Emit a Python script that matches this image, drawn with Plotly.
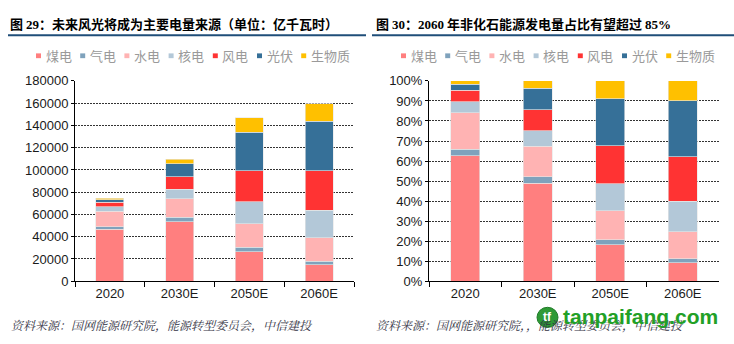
import numpy as np
import plotly.graph_objects as go

# Generation by source, 亿千瓦时
years = ["2020", "2030E", "2050E", "2060E"]
sources = ["煤电", "气电", "水电", "核电", "风电", "光伏", "生物质"]
colors = ["#FF7F7F", "#7FA2BC", "#FFB3B3", "#B3C8D8", "#FF3333", "#367098", "#FFC000"]

coal = [46700, 53600, 26650, 14600]
gas = [2300, 3700, 3720, 3450]
hydro = [13750, 16600, 21210, 21210]
nuclear = [4010, 8600, 19770, 24640]
wind = [4300, 11500, 27790, 35240]
solar = [2290, 11700, 34660, 44660]
biomass = [1150, 4000, 12900, 15800]

y_ticks_abs = [0, 20000, 40000, 60000, 80000, 100000, 120000, 140000, 160000, 180000]
y_ticks_pct = list(range(0, 101, 10))

series = [coal, gas, hydro, nuclear, wind, solar, biomass]
values = np.array(series, dtype=float)
shares = values / values.sum(axis=0) * 100.0

W, H = 734, 344


def px(x):
    return x / W


def py(y):
    return 1 - y / H


fig = go.Figure()

for name, col, v, s in zip(sources, colors, values, shares):
    fig.add_trace(go.Bar(x=years, y=v, name=name, marker_color=col,
                         marker_line=dict(color="rgba(230,230,230,0.9)", width=0.7),
                         xaxis="x", yaxis="y", showlegend=False))
    fig.add_trace(go.Bar(x=years, y=s, name=name, marker_color=col,
                         marker_line=dict(color="rgba(230,230,230,0.9)", width=0.7),
                         xaxis="x2", yaxis="y2", showlegend=False))

tick_font = dict(family="Liberation Sans, Arial, sans-serif", size=13, color="#1a1a1a")
grid = dict(showgrid=True, gridcolor="#333333", gridwidth=1, griddash="2px,1px")

xcommon = dict(type="category", categoryorder="array", categoryarray=years,
               showline=True, linecolor="black", linewidth=1,
               ticks="outside", ticklen=5, tickcolor="black", tickson="boundaries",
               tickfont=tick_font, showgrid=False, zeroline=False, fixedrange=True)
ycommon = dict(showline=True, linecolor="black", linewidth=1,
               ticks="outside", ticklen=3, tickcolor="black",
               tickfont=tick_font, zeroline=False, fixedrange=True, **grid)

y0, y1 = py(286.7), py(77.3)

fig.update_layout(
    width=W, height=H,
    margin=dict(l=0, r=0, t=0, b=0),
    paper_bgcolor="white", plot_bgcolor="white",
    barmode="stack", bargap=0.6,
    xaxis=dict(domain=[px(75), px(354)], anchor="y", **xcommon),
    yaxis=dict(domain=[y0, y1], anchor="x", range=[0, 180000],
               tickvals=y_ticks_abs, ticktext=[str(t) for t in y_ticks_abs], **ycommon),
    xaxis2=dict(domain=[px(429), px(719)], anchor="y2", **xcommon),
    yaxis2=dict(domain=[y0, y1], anchor="x2", range=[0, 100],
                tickvals=y_ticks_pct, ticktext=[f"{t}%" for t in y_ticks_pct], **ycommon),
)

annotations = []
shapes = []

title_font = dict(family="Noto Sans CJK SC, sans-serif", size=13, color="black")
serif = "font-family:Liberation Serif, Times New Roman, serif"

annotations.append(dict(
    xref="paper", yref="paper", x=px(8), y=py(17), xanchor="left", yanchor="middle",
    text=f'<b>图 <span style="{serif}">29</span>：未来风光将成为主要电量来源（单位：亿千瓦时）</b>',
    showarrow=False, font=title_font))
annotations.append(dict(
    xref="paper", yref="paper", x=px(374), y=py(17), xanchor="left", yanchor="middle",
    text=(f'<b>图 <span style="{serif}">30</span>：<span style="{serif}">2060</span> '
          f'年非化石能源发电量占比有望超过 <span style="{serif}">85%</span></b>'),
    showarrow=False, font=title_font))

# rule under each title
for xa, xb in [(8, 366), (372, 734)]:
    shapes.append(dict(type="line", xref="paper", yref="paper",
                       x0=px(xa), x1=px(xb), y0=py(29.5), y1=py(29.5),
                       line=dict(color="#1F4E79", width=2)))

# legends
legend_font = dict(family="Noto Sans CJK SC, sans-serif", size=13, color="#9a9a9a")
for start in (36, 401):
    for i, (name, col) in enumerate(zip(sources, colors)):
        sx = start + i * 44.2
        shapes.append(dict(type="rect", xref="paper", yref="paper",
                           x0=px(sx), x1=px(sx + 5), y0=py(53.5), y1=py(48.5),
                           fillcolor=col, line=dict(width=0)))
        annotations.append(dict(xref="paper", yref="paper", x=px(sx + 7.5), y=py(51),
                                xanchor="left", yanchor="middle", text=name,
                                showarrow=False, font=legend_font))

# source notes
note_font = dict(family="Noto Serif CJK SC, Noto Sans CJK SC, serif", size=12, color="#333344")
annotations.append(dict(xref="paper", yref="paper", x=px(9), y=py(332),
                        xanchor="left", yanchor="middle",
                        text="<i>资料来源：国网能源研究院，能源转型委员会，中信建投</i>",
                        showarrow=False, font=note_font))
annotations.append(dict(xref="paper", yref="paper", x=px(374), y=py(332),
                        xanchor="left", yanchor="middle",
                        text="<i>资料来源：国网能源研究院，，能源转型委员会，中信建投</i>",
                        showarrow=False, font=note_font))

# site mark, drawn over the right-hand note
shapes.append(dict(type="circle", xref="paper", yref="paper",
                   x0=px(537), x1=px(558), y0=py(335), y1=py(314),
                   fillcolor="#2E9A35", line=dict(color="#1F7A28", width=1)))
annotations.append(dict(xref="paper", yref="paper", x=px(547.5), y=py(324.5),
                        xanchor="center", yanchor="middle", text="<b>tf</b>",
                        showarrow=False,
                        font=dict(family="Liberation Sans, Arial", size=12, color="white")))
annotations.append(dict(xref="paper", yref="paper", x=px(561), y=py(324),
                        xanchor="left", yanchor="middle", text="<b>tanpaifang.com</b>",
                        showarrow=False,
                        font=dict(family="Liberation Sans, Arial", size=21, color="#22A026")))

fig.update_layout(annotations=annotations, shapes=shapes)

fig.write_html("out.html")
